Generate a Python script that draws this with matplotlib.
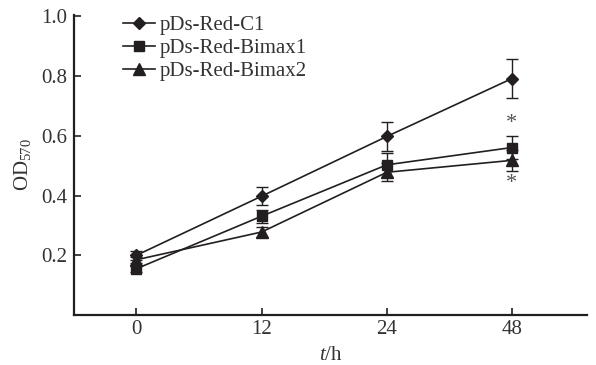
import matplotlib
matplotlib.use("Agg")
import matplotlib.pyplot as plt
from matplotlib.lines import Line2D
import numpy as np

plt.rcParams['font.family'] = ['Liberation Serif', 'DejaVu Serif']
plt.rcParams['mathtext.fontset'] = 'custom'
plt.rcParams['mathtext.rm'] = 'Liberation Serif'
plt.rcParams['mathtext.it'] = 'Liberation Serif:italic'

categories = ['0', '12', '24', '48']
series_names = ['pDs-Red-C1', 'pDs-Red-Bimax1', 'pDs-Red-Bimax2']
c1 = [0.200, 0.398, 0.598, 0.792]
c1_err = [0.015, 0.030, 0.047, 0.064]
bimax1 = [0.155, 0.331, 0.503, 0.561]
bimax1_err = [0.012, 0.022, 0.040, 0.040]
bimax2 = [0.185, 0.278, 0.478, 0.518]
bimax2_err = [0.010, 0.017, 0.030, 0.035]
yticks = [0.2, 0.4, 0.6, 0.8, 1.0]

ink = '#231f20'
txt = '#333333'
fig = plt.figure(figsize=(5.96, 3.65), dpi=100)
ax = fig.add_axes([0.124, 0.137, 0.861, 0.822])

x = np.arange(len(categories))
handles = []
for vals, errs, mk, ms, name in [(c1, c1_err, 'D', 6, series_names[0]),
                                  (bimax1, bimax1_err, 's', 7, series_names[1]),
                                  (bimax2, bimax2_err, '^', 8, series_names[2])]:
    ax.errorbar(x, vals, yerr=errs, marker=mk, markersize=ms, color=ink,
                ecolor=ink, elinewidth=1, capsize=4, capthick=1, lw=1.2)
    handles.append(Line2D([], [], marker=mk, markersize=ms, color=ink, lw=1.2,
                          label=name))

# significance asterisks
ax.text(x[3], bimax1[3] + bimax1_err[3] + 0.008, '*', ha='center', va='bottom',
        fontsize=16, color='#555555')
ax.text(x[3], bimax2[3] - bimax2_err[3] - 0.012, '*', ha='center', va='top',
        fontsize=16, color='#555555')

ax.set_xlim(-0.5, 3.6)
ax.set_ylim(0, 1.005)
ax.set_xticks(x)
ax.set_xticklabels(categories)
ax.set_yticks(yticks)
ax.set_yticklabels([f'{v:.1f}' for v in yticks])
ax.tick_params(direction='in', length=5, width=1.2, labelsize=15, colors=ink,
               labelcolor=txt)
ax.tick_params(axis='y', pad=5)
for s in ['top', 'right']:
    ax.spines[s].set_visible(False)
for s in ['left', 'bottom']:
    ax.spines[s].set_linewidth(1.6)
    ax.spines[s].set_color(ink)

ax.set_ylabel(r'OD$_{570}$', fontsize=15, color=txt, labelpad=6)
ax.set_xlabel(r'$t$/h', fontsize=15, color=txt, labelpad=5)

leg = ax.legend(handles=handles, loc='upper left', bbox_to_anchor=(0.08, 1.025),
                frameon=False, fontsize=15, handlelength=1.5, handletextpad=0.25,
                labelspacing=0.15, borderaxespad=0)
for t in leg.get_texts():
    t.set_color(txt)

fig.savefig('out.png', dpi=100)
